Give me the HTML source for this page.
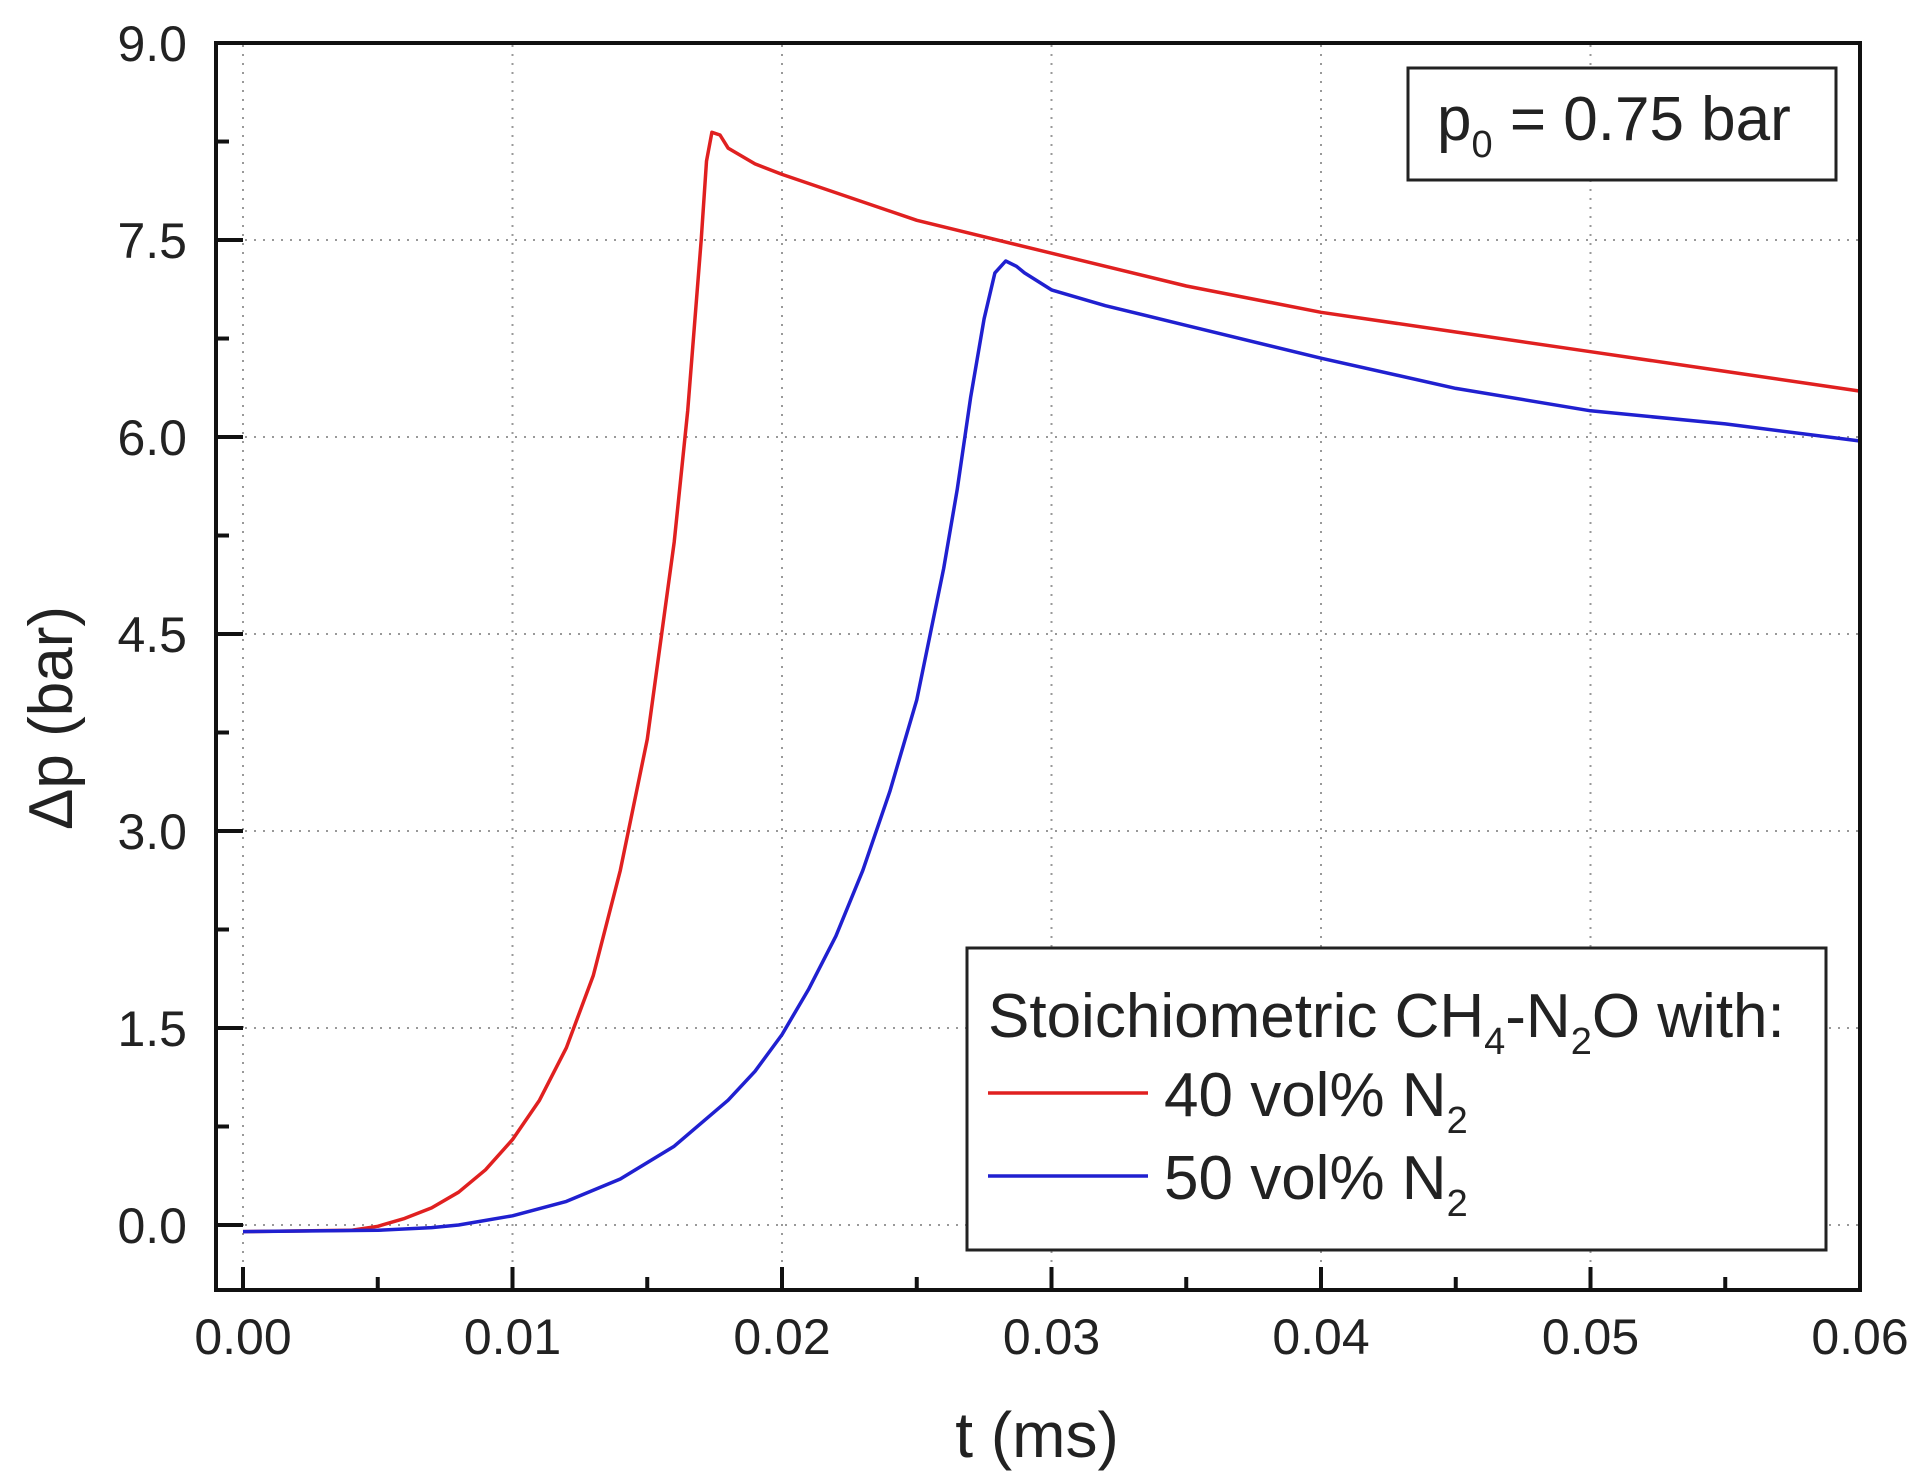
<!DOCTYPE html>
<html><head><meta charset="utf-8"><style>
html,body{margin:0;padding:0;background:#fff;}
svg{display:block;font-family:"Liberation Sans",Arial,sans-serif;}
</style></head><body>
<svg id="s" width="1919" height="1477" viewBox="0 0 1919 1477" xmlns="http://www.w3.org/2000/svg">
<g id="grid" stroke="#999" stroke-width="2" stroke-dasharray="2,7"></g>
<g id="curves" fill="none" stroke-width="3.5" stroke-linejoin="round"></g>
<rect x="216" y="43" width="1644" height="1247" fill="none" stroke="#111" stroke-width="4"/>
<g id="ticks" stroke="#111" stroke-width="4"></g>
<g id="labels" font-size="50" fill="#222"></g>
<text x="1037" y="1457" font-size="64" text-anchor="middle" fill="#222">t (ms)</text>
<text transform="translate(72,718) rotate(-90)" font-size="62" text-anchor="middle" fill="#222">Δp (bar)</text>
<rect x="1408" y="68" width="428" height="112" fill="#fff" stroke="#222" stroke-width="3"/>
<text x="1437" y="140" font-size="62" fill="#222">p<tspan font-size="38" dy="17">0</tspan><tspan dy="-17"> = 0.75 bar</tspan></text>
<rect x="967" y="948" width="859" height="302" fill="#fff" stroke="#222" stroke-width="3"/>
<text x="988" y="1037" font-size="62" fill="#222">Stoichiometric CH<tspan font-size="38" dy="17">4</tspan><tspan dy="-17">-N</tspan><tspan font-size="38" dy="17">2</tspan><tspan dy="-17">O with:</tspan></text>
<line x1="988" y1="1093" x2="1148" y2="1093" stroke="#e02020" stroke-width="3.5"/>
<line x1="988" y1="1176" x2="1148" y2="1176" stroke="#2020d0" stroke-width="3.5"/>
<text x="1164" y="1116" font-size="62" fill="#222">40 vol% N<tspan font-size="38" dy="17">2</tspan></text>
<text x="1164" y="1199" font-size="62" fill="#222">50 vol% N<tspan font-size="38" dy="17">2</tspan></text>
</svg>
<script>
var NS="http://www.w3.org/2000/svg";
function X(t){return 243+t/0.01*269.5;}
function Y(p){return 1225-p*131.33;}
function el(p,tag,a){var e=document.createElementNS(NS,tag);for(var k in a)e.setAttribute(k,a[k]);p.appendChild(e);return e;}
var g=document.getElementById('grid'),tk=document.getElementById('ticks'),lb=document.getElementById('labels');
for(var i=0;i<=6;i++){var x=X(i*0.01);
 if(i<6)el(g,'line',{x1:x,y1:45,x2:x,y2:1288});
 el(tk,'line',{x1:x,y1:1290,x2:x,y2:1267});
 if(i<6){var xm=X(i*0.01+0.005);el(tk,'line',{x1:xm,y1:1290,x2:xm,y2:1277});}
 var t=el(lb,'text',{x:x,y:1354,'text-anchor':'middle'});t.textContent=(i*0.01).toFixed(2);}
for(var j=0;j<=6;j++){var v=j*1.5,y=Y(v);
 if(j<6)el(g,'line',{x1:218,y1:y,x2:1858,y2:y});
 el(tk,'line',{x1:216,y1:y,x2:243,y2:y});
 if(j<6){var ym=Y(v+0.75);el(tk,'line',{x1:216,y1:ym,x2:229,y2:ym});}
 var t=el(lb,'text',{x:187,y:y+18,'text-anchor':'end'});t.textContent=v.toFixed(1);}
var red=[[0,-0.05],[0.004,-0.04],[0.005,-0.01],[0.006,0.05],[0.007,0.13],[0.008,0.25],[0.009,0.42],[0.010,0.65],[0.011,0.95],[0.012,1.35],[0.013,1.9],[0.014,2.7],[0.015,3.7],[0.016,5.2],[0.0165,6.2],[0.017,7.5],[0.0172,8.1],[0.0174,8.32],[0.0177,8.3],[0.018,8.2],[0.019,8.08],[0.02,8.0],[0.025,7.65],[0.03,7.4],[0.035,7.15],[0.04,6.95],[0.045,6.8],[0.05,6.65],[0.055,6.5],[0.06,6.35]];
var blue=[[0,-0.05],[0.005,-0.04],[0.007,-0.02],[0.008,0.0],[0.010,0.07],[0.012,0.18],[0.014,0.35],[0.016,0.6],[0.018,0.95],[0.019,1.17],[0.020,1.45],[0.021,1.8],[0.022,2.2],[0.023,2.7],[0.024,3.3],[0.025,4.0],[0.026,5.0],[0.0265,5.6],[0.027,6.3],[0.0275,6.9],[0.0279,7.25],[0.0283,7.34],[0.0287,7.3],[0.029,7.25],[0.03,7.12],[0.032,7.0],[0.035,6.85],[0.04,6.6],[0.045,6.37],[0.05,6.2],[0.055,6.1],[0.06,5.97]];
var c=document.getElementById('curves');
function pts(a){return a.map(function(p){return X(p[0]).toFixed(1)+','+Y(p[1]).toFixed(1);}).join(' ');}
el(c,'polyline',{points:pts(red),stroke:'#e02020'});
el(c,'polyline',{points:pts(blue),stroke:'#2020d0'});
</script>
</body></html>
